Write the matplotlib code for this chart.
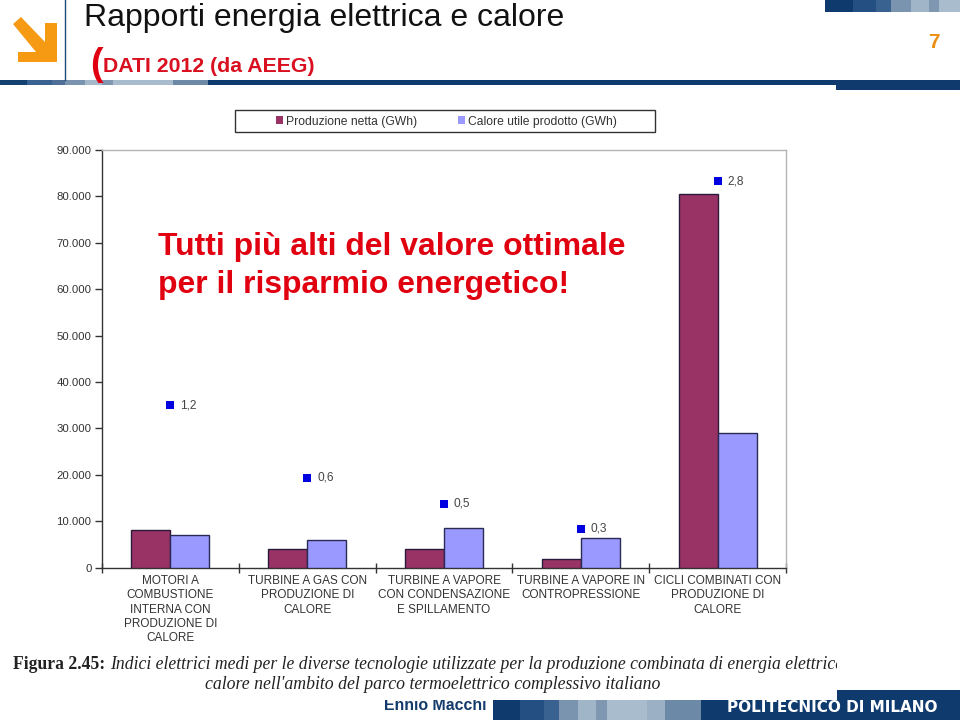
import matplotlib
matplotlib.use("Agg")
import matplotlib.pyplot as plt
from matplotlib.patches import Rectangle, Polygon
from matplotlib.ticker import FuncFormatter, MultipleLocator

categories = ["MOTORI A\nCOMBUSTIONE\nINTERNA CON\nPRODUZIONE DI\nCALORE",
              "TURBINE A GAS CON\nPRODUZIONE DI\nCALORE",
              "TURBINE A VAPORE\nCON CONDENSAZIONE\nE SPILLAMENTO",
              "TURBINE A VAPORE IN\nCONTROPRESSIONE",
              "CICLI COMBINATI CON\nPRODUZIONE DI\nCALORE"]
produzione = [8000, 4000, 4000, 1800, 80500]
calore = [6900, 6000, 8500, 6400, 29000]
indice_pos = [35000, 19300, 13700, 8300, 83300]
indice_lab = ["1,2", "0,6", "0,5", "0,3", "2,8"]

W, H = 960, 720
plt.rcParams['font.family'] = ['Liberation Sans', 'DejaVu Sans']
fig = plt.figure(figsize=(9.6, 7.2), dpi=100, facecolor='white')

def axrect(x0, ytop, x1, ybot):
    return [x0 / W, 1 - ybot / H, (x1 - x0) / W, (ybot - ytop) / H]

# chart
ax = fig.add_axes(axrect(102, 150, 786, 567.5))
x = list(range(5))
bw = 0.285
ax.bar([i - bw / 2 for i in x], produzione, bw, color='#993366', edgecolor='#2a1a3a', linewidth=1.0, zorder=3)
ax.bar([i + bw / 2 for i in x], calore, bw, color='#9999ff', edgecolor='#2a2a55', linewidth=1.0, zorder=3)
ax.scatter(x, indice_pos, marker='s', s=33, color='#0000e0', linewidths=0, zorder=4)
for i, yy, t in zip(x, indice_pos, indice_lab):
    ax.annotate(t, (i, yy), xytext=(10, 0), textcoords='offset pixels', va='center', ha='left',
                fontsize=8.6, color='#444444')
ax.set_xlim(-0.5, 4.5)
ax.set_ylim(0, 90000)
ax.yaxis.set_major_locator(MultipleLocator(10000))
ax.yaxis.set_major_formatter(FuncFormatter(lambda v, p: f"{int(v):,}".replace(",", ".")))
ax.set_xticks([i - 0.5 for i in range(6)])
ax.set_xticklabels([])
ax.tick_params(axis='x', direction='inout', length=7, width=1, color='#333333')
ax.tick_params(axis='y', direction='out', length=5, width=1, color='#333333', labelsize=8.2, labelcolor='#333333', pad=2.5)
for s in ['left', 'bottom']:
    ax.spines[s].set_color('#333333')
    ax.spines[s].set_linewidth(1.0)
for s in ['top', 'right']:
    ax.spines[s].set_color('#b5b5b5')
    ax.spines[s].set_linewidth(1.0)
for i, c in zip(x, categories):
    ax.annotate(c, (i, 0), xytext=(0, -5.5), textcoords='offset points', ha='center', va='top',
                fontsize=8.5, color='#333333', linespacing=1.25)

# overlay in pixel coordinates
ov = fig.add_axes([0, 0, 1, 1], facecolor='none')
ov.set_xlim(0, W)
ov.set_ylim(H, 0)
ov.axis('off')

def rect(x0, y0, x1, y1, c, z=2, **kw):
    ov.add_patch(Rectangle((x0, y0), x1 - x0, y1 - y0, facecolor=c, edgecolor='none', zorder=z, **kw))

# legend box
ov.add_patch(Rectangle((235, 110), 420, 21.5, facecolor='white', edgecolor='#333333', linewidth=1.0, zorder=2))
rect(276, 116, 282.5, 124, '#993366', 3)
rect(458, 116, 464.5, 124, '#9999ff', 3)
ov.text(285.5, 124.5, "Produzione netta (GWh)", fontsize=8.75, color='#333333', va='baseline', zorder=3)
ov.text(467.5, 124.5, "Calore utile prodotto (GWh)", fontsize=8.75, color='#333333', va='baseline', zorder=3)

# slide bands
NAVY = '#0f3a6e'
top_band = [(0, 27, '#12406f'), (27, 52, '#3a6290'), (52, 65, '#4e7096'), (65, 85, '#7a93ae'),
            (85, 102, '#a5b8ca'), (102, 113, '#7f97b0'), (113, 173, '#a9bccd'), (173, 208, '#6c89a8'), (208, 836, NAVY)]
for a, b, c in top_band:
    rect(a, 80, b, 85, c)
rect(836, 80, 960, 90, NAVY)

corner = [(825, 853, NAVY), (853, 876, '#234f82'), (876, 891, '#3a6290'), (891, 911, '#7a93ae'),
          (911, 929, '#a1b5c9'), (929, 939, '#7f97b0'), (939, 960, '#a9bccd')]
for a, b, c in corner:
    rect(a, 0, b, 12, c)

bottom = [(493, 520, NAVY), (520, 544, '#234f82'), (544, 559, '#3a6290'), (559, 578, '#7a93ae'),
          (578, 596, '#a1b5c9'), (596, 607, '#7f97b0'), (607, 630, '#a9bccd'), (630, 647, '#a9bccd'),
          (647, 665, '#9cb0c5'), (665, 701, '#6c89a8'), (701, 960, NAVY)]
for a, b, c in bottom:
    rect(a, 700, b, 720, c)
rect(837, 690, 960, 720, NAVY)
ov.plot([64.5, 64.5], [0, 80], color='#1f4a78', lw=1.0, zorder=2)

# logo arrow
ov.add_patch(Polygon([(13, 24), (21, 17), (45, 42), (45, 23), (57, 23), (57, 62), (18, 62), (18, 52), (36, 52)],
                     closed=True, facecolor='#f59a12', edgecolor='none', zorder=3))

# slide texts
ov.text(83.5, 26, "Rapporti energia elettrica e calore", fontsize=23, color='#111111', va='baseline', zorder=5)
ov.text(90, 75, "(", fontsize=27, color='#e00010', fontweight='bold', va='baseline', zorder=5)
ov.text(103, 72, "DATI 2012 (da AEEG)", fontsize=15.3, color='#d81020', fontweight='bold', va='baseline', zorder=5)
ov.text(934, 48, "7", fontsize=15, color='#ea8f10', fontweight='bold', va='baseline', ha='center', zorder=5)
ov.text(158, 255, "Tutti più alti del valore ottimale", fontsize=22.95, color='#e00010', fontweight='bold', va='baseline', zorder=5)
ov.text(158, 293, "per il risparmio energetico!", fontsize=22.95, color='#e00010', fontweight='bold', va='baseline', zorder=5)

# caption
SER = ['Liberation Serif', 'DejaVu Serif']
ov.text(13, 669, "Figura 2.45:", family=SER, fontsize=12.7, fontweight='bold', color='#222222', va='baseline', zorder=5)
cap = ov.text(110, 669, "Indici elettrici medi per le diverse tecnologie utilizzate per la produzione combinata di energia elettrica",
        family=SER, style='italic', fontsize=12.7, color='#222222', va='baseline', zorder=5)
cap.set_clip_on(True)
cap.set_clip_path(Rectangle((0, 0), 837, 720, transform=None))
ov.text(205, 689, "calore nell'ambito del parco termoelettrico complessivo italiano", family=SER, style='italic',
        fontsize=12.8, color='#222222', va='baseline', zorder=5)
ov.text(486, 710, "Ennio Macchi", fontsize=11.4, color='#123a6a', fontweight='bold', va='baseline', ha='right', zorder=1)
rect(370, 690, 493, 700, 'white', 1.5)
ov.text(832.5, 712, "POLITECNICO DI MILANO", family=['DejaVu Sans'], fontsize=11, color='white', fontweight='bold', va='baseline', ha='center', zorder=6)
fig.savefig("out.png", dpi=100)
